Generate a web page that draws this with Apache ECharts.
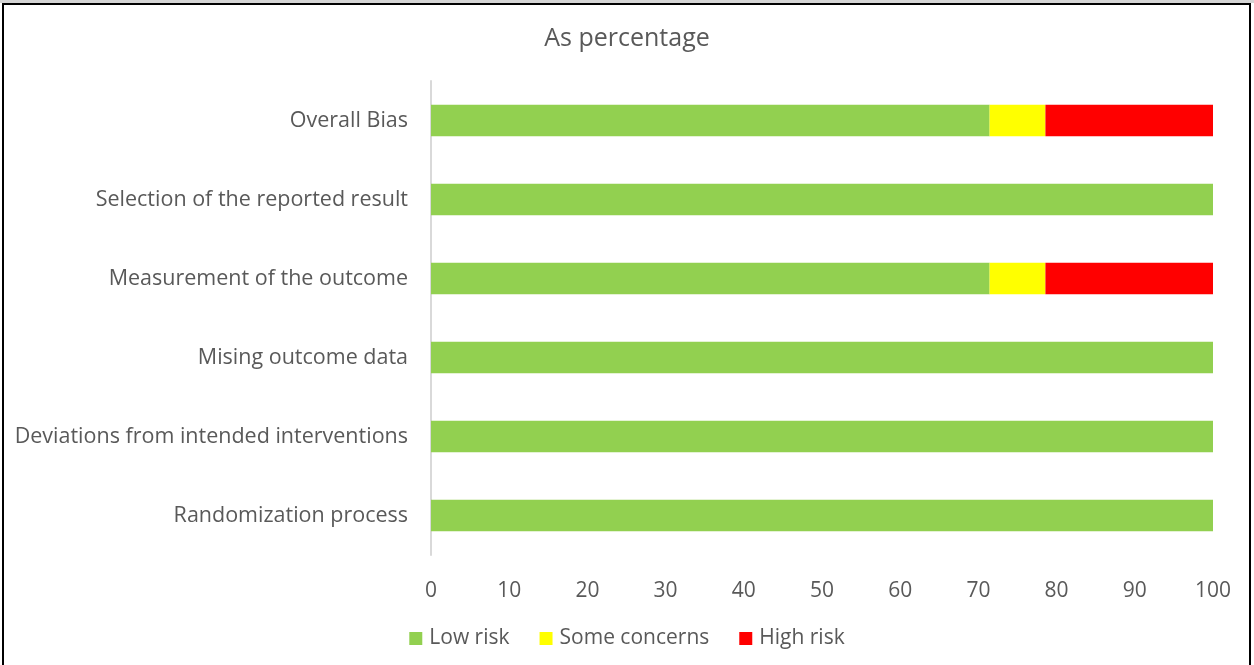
<!DOCTYPE html>
<html>
<head>
<meta charset="utf-8">
<script src="https://cdn.jsdelivr.net/npm/echarts@6/dist/echarts.min.js"></script>
<style>
  html, body { margin: 0; padding: 0; background: #fff; }
  #topband { position: absolute; left: 0; top: 0; width: 1254px; height: 3px; background: #d4d4d4; }
  #frame { position: absolute; left: 2px; top: 3px; width: 1249px; height: 670px; border: 2px solid #000; border-bottom: none; box-sizing: border-box; background: #fff; }
  #chart { position: absolute; left: 0; top: 0; width: 1254px; height: 665px; }
</style>
</head>
<body>
<div id="topband"></div>
<div id="frame"></div>
<div id="chart"></div>
<script>
// Risk-of-bias domains, bottom to top as drawn
const domains = [
  'Randomization process',
  'Deviations from intended interventions',
  'Mising outcome data',
  'Measurement of the outcome',
  'Selection of the reported result',
  'Overall Bias'
];
const lowRisk      = [100, 100, 100, 71.43, 100, 71.43];
const someConcerns = [0, 0, 0, 7.14, 0, 7.14];
const highRisk     = [0, 0, 0, 21.43, 0, 21.43];
const xTicks = [0, 10, 20, 30, 40, 50, 60, 70, 80, 90, 100];

const font = '"Open Sans", "Noto Sans", sans-serif';
const textColor = '#595959';

const chart = echarts.init(document.getElementById('chart'), null, { renderer: 'canvas' });

function barSeries(name, data, color) {
  return {
    name: name,
    type: 'bar',
    stack: 'total',
    data: data,
    barCategoryGap: '60%',
    itemStyle: { color: color },
    emphasis: { disabled: true },
    silent: true
  };
}

chart.setOption({
  animation: false,
  backgroundColor: 'transparent',
  title: {
    text: 'As percentage',
    left: 'center',
    top: 21,
    textStyle: { fontFamily: font, fontSize: 25, fontWeight: 'normal', color: textColor }
  },
  grid: { left: 431, right: 41, top: 81, bottom: 110, containLabel: false },
  xAxis: {
    type: 'value',
    min: xTicks[0],
    max: xTicks[xTicks.length - 1],
    interval: 10,
    axisLine: { show: false },
    axisTick: { show: false },
    splitLine: { show: false },
    axisLabel: { fontFamily: font, fontSize: 21, color: textColor, margin: 26 }
  },
  yAxis: {
    type: 'category',
    data: domains,
    axisLine: { show: true, lineStyle: { color: '#d9d9d9', width: 2 } },
    axisTick: { show: false },
    axisLabel: { fontFamily: font, fontSize: 21.5, color: textColor, margin: 23 }
  },
  legend: {
    bottom: 11,
    left: 'center',
    itemWidth: 13,
    itemHeight: 13,
    itemGap: 30,
    icon: 'rect',
    textStyle: { fontFamily: font, fontSize: 21, color: textColor, padding: [0, 0, 0, 2] },
    data: ['Low risk', 'Some concerns', 'High risk']
  },
  series: [
    barSeries('Low risk', lowRisk, '#92d050'),
    barSeries('Some concerns', someConcerns, '#ffff00'),
    barSeries('High risk', highRisk, '#ff0000')
  ]
});
</script>
</body>
</html>
